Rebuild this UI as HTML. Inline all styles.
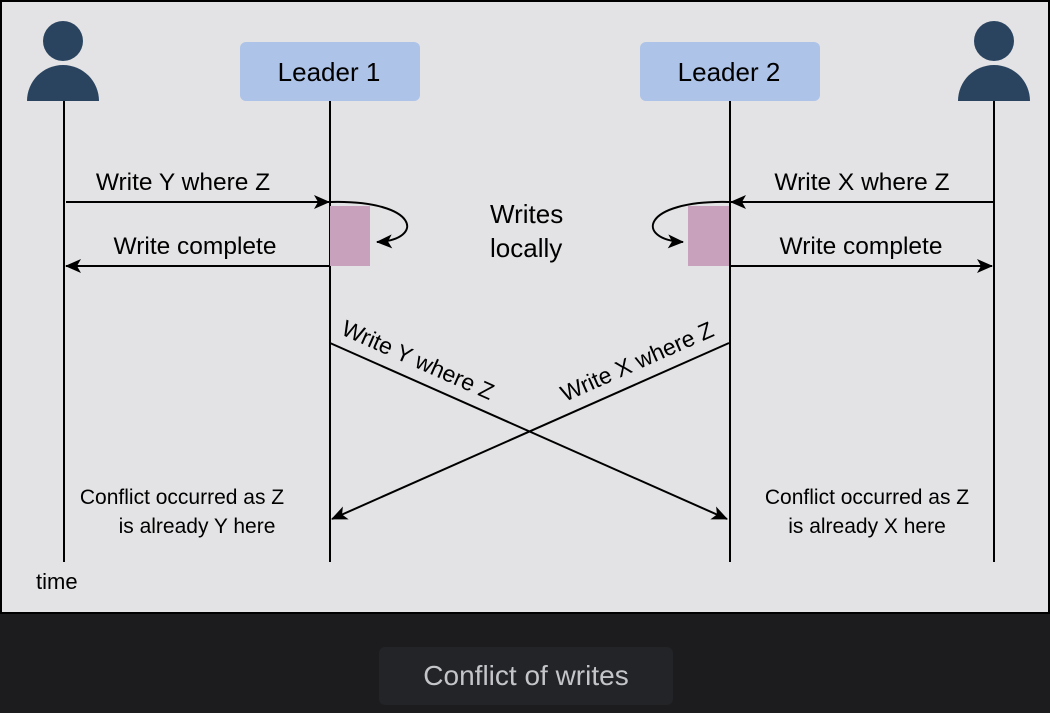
<!DOCTYPE html>
<html><head><style>
body{margin:0;width:1050px;height:708px;background:#1c1c1e;overflow:hidden;font-family:"Liberation Sans",sans-serif}
</style></head><body>
<svg width="1050" height="708" xmlns="http://www.w3.org/2000/svg" font-family="Liberation Sans, sans-serif">
<rect x="0" y="0" width="1050" height="614" fill="#000"/>
<rect x="2" y="2" width="1046" height="610" fill="#e3e3e5"/>
<defs><marker id="a" markerWidth="16" markerHeight="14" refX="15" refY="7" orient="auto" markerUnits="userSpaceOnUse"><path d="M0,0 L16,7 L0,14 L4,7 z" fill="#000"/></marker></defs>
<g fill="#2a4460">
<circle cx="63" cy="41" r="20"/><path d="M27,101 A36,36 0 0 1 99,101 z"/>
<circle cx="994" cy="41" r="20"/><path d="M958,101 A36,36 0 0 1 1030,101 z"/>
</g>
<rect x="240" y="42" width="180" height="59" rx="6" fill="#aec3e8"/>
<rect x="640" y="42" width="180" height="59" rx="6" fill="#aec3e8"/>
<text x="329" y="81" font-size="26" text-anchor="middle">Leader 1</text>
<text x="729" y="81" font-size="26" text-anchor="middle">Leader 2</text>
<g stroke="#000" stroke-width="2">
<line x1="64" y1="101" x2="64" y2="562"/><line x1="330" y1="101" x2="330" y2="562"/>
<line x1="730" y1="101" x2="730" y2="562"/><line x1="994" y1="101" x2="994" y2="562"/>
</g>
<rect x="330" y="206" width="40" height="60" fill="#c8a2bc"/>
<rect x="688" y="206" width="41" height="60" fill="#c8a2bc"/>
<g stroke="#000" stroke-width="2" fill="none" marker-end="url(#a)">
<line x1="66" y1="202" x2="329" y2="202"/>
<line x1="330" y1="266" x2="66" y2="266"/>
<line x1="993" y1="202" x2="731" y2="202"/>
<line x1="730" y1="266" x2="992" y2="266"/>
<path d="M331,202 C420,200 425,240 377,242"/>
<path d="M729,202 C640,200 635,240 683,242"/>
<line x1="330" y1="343" x2="727" y2="519"/>
<line x1="729" y1="343" x2="332" y2="519"/>
</g>
<g font-size="24.5">
<text x="183" y="190" text-anchor="middle">Write Y where Z</text>
<text x="195" y="254" text-anchor="middle">Write complete</text>
<text x="862" y="190" text-anchor="middle">Write X where Z</text>
<text x="861" y="254" text-anchor="middle">Write complete</text>
</g>
<g font-size="26">
<text x="490" y="223">Writes</text>
<text x="490" y="257">locally</text>
</g>
<text font-size="23" transform="translate(340,334) rotate(23.9)">Write Y where Z</text>
<text font-size="23" transform="translate(565,402) rotate(-23.9)">Write X where Z</text>
<g font-size="21" text-anchor="middle">
<text x="182" y="504">Conflict occurred as Z</text><text x="197" y="533">is already Y here</text>
<text x="867" y="504">Conflict occurred as Z</text><text x="867" y="533">is already X here</text>
</g>
<text x="36" y="589" font-size="22">time</text>
<rect x="379" y="647" width="294" height="58" rx="6" fill="#232427"/>
<text x="526" y="685" font-size="28" fill="#c4c5c8" text-anchor="middle">Conflict of writes</text>
</svg>
</body></html>
